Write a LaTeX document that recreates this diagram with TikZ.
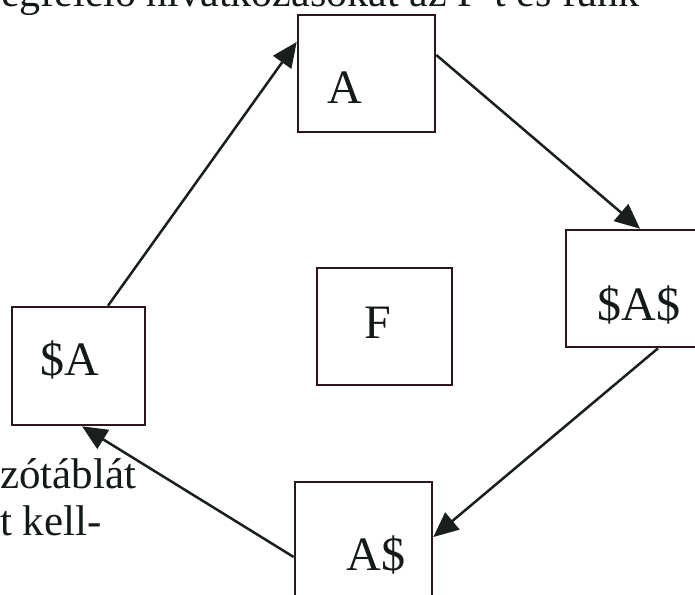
\documentclass[tikz,border=0pt]{standalone}
\usepackage{fontspec}
\setmainfont{Liberation Serif}
\usetikzlibrary{arrows.meta}
\definecolor{boxline}{RGB}{45,22,30}
\definecolor{arrline}{RGB}{25,30,30}
\definecolor{txt}{RGB}{20,25,25}
\begin{document}
\begin{tikzpicture}[x=1pt,y=-1pt,
  box/.style={draw=boxline, line width=2.6pt, rectangle, inner sep=0pt,
    minimum width=137pt, minimum height=117pt},
  boxlabel/.style={font=\fontsize{48}{50}\selectfont, text=txt, anchor=base, inner sep=0pt},
  bodytext/.style={font=\fontsize{43}{48}\selectfont, text=txt, anchor=base west, inner sep=0pt},
  arr/.style={draw=arrline, line width=2.5pt, -{Triangle[length=25pt,width=22pt]}}]
\useasboundingbox (0,0) rectangle (695,594);
\clip (0,0) rectangle (695,594);
\fill[white] (0,0) rectangle (695,594);

% partial surrounding text
\node[bodytext, font=\fontsize{42}{48}\selectfont] (toptext) at (1,7) {egfelelő hivatkozásokat az F-t és funk};
\node[bodytext] (side1) at (0,488) {zótáblát};
\node[bodytext] (side2) at (0,535) {t kell-};

% boxes
\node[box] (boxA) at (366.5,73.5) {};
\node[box] (boxSAS) at (634.5,288.5) {};
\node[box, minimum width=135pt] (boxF) at (384.5,326.5) {};
\node[box, minimum width=133pt, minimum height=118pt] (boxSA) at (78.5,366) {};
\node[box] (boxAS) at (363.5,540.5) {};

% labels
\node[boxlabel] (labA) at (345,103) {A};
\node[boxlabel] (labSAS) at (639,320) {\$A\$};
\node[boxlabel] (labF) at (378,338) {F};
\node[boxlabel] (labSA) at (70,375) {\$A};
\node[boxlabel] (labAS) at (376,570) {A\$};

% connectors
\draw[arr] ([xshift=29.5pt]boxSA.north) -- ([yshift=31.5pt]boxA.west);
\draw[arr] ([yshift=18.5pt]boxA.east) -- ([xshift=5.5pt]boxSAS.north);
\draw[arr] ([xshift=23.5pt]boxSAS.south) -- ([yshift=3.5pt]boxAS.east);
\draw[arr] ([yshift=-16.5pt]boxAS.west) -- ([xshift=3.5pt]boxSA.south);
\end{tikzpicture}
\end{document}
